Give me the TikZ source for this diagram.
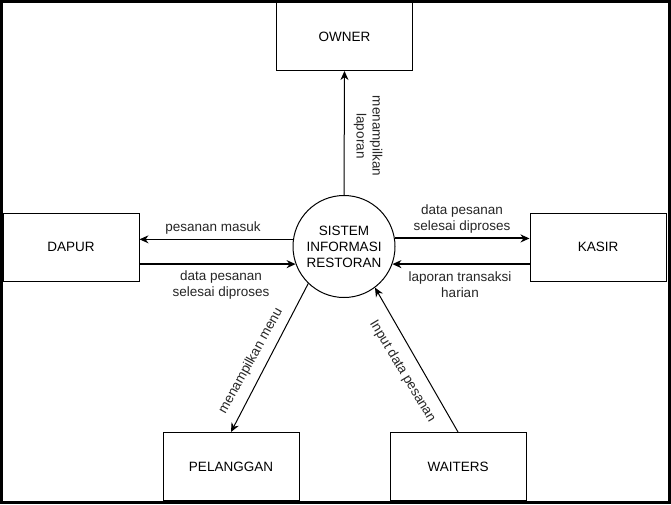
\documentclass[tikz,border=0pt]{standalone}
\usepackage{fontspec}
\setmainfont{Liberation Sans}
\usetikzlibrary{arrows.meta,calc}
\begin{document}
\begin{tikzpicture}[x=1pt,y=-1pt,
  font=\fontsize{13.5}{16}\selectfont,
  box/.style={draw, line width=1pt, minimum width=136pt, minimum height=68pt, inner sep=0pt},
  flow/.style={-{Stealth[length=9pt,width=8pt]}, line width=1pt},
  heavy/.style={flow, line width=2pt},
  lbl/.style={align=center, inner sep=0pt, text=black!85}]
\useasboundingbox (0,0) rectangle (671,504);
\fill[white] (0,0) rectangle (671,504);
\draw[line width=3pt] (1.5,1.5) rectangle (669.5,502.5);

\node[box] (owner) at (344.5,36.5) {OWNER};
\node[box] (dapur) at (71,247) {DAPUR};
\node[box] (kasir) at (598,247) {KASIR};
\node[box] (pel) at (231,466.5) {PELANGGAN};
\node[box] (wait) at (458,466.5) {WAITERS};
\node[circle, draw, line width=1pt, minimum size=102pt, inner sep=0pt, align=center] (sys) at (344,246.5) {SISTEM\\INFORMASI\\RESTORAN};

\draw[flow] (sys.north) -- (owner.south);
\node[lbl, rotate=-90] (l1) at (368,136) {menampilkan\\laporan};

\draw[flow] (sys.172.7) -- (sys.172.7 -| dapur.east);
\node[lbl] (l2) at (213,228) {pesanan masuk};
\draw[heavy] (sys.200 -| dapur.east) -- (sys.200);
\node[lbl] (l3) at (221,285) {data pesanan\\selesai diproses};

\draw[heavy] (sys.9.6) -- (sys.9.6 -| kasir.west);
\node[lbl] (l4) at (462,219) {data pesanan\\selesai diproses};
\draw[heavy] (sys.340 -| kasir.west) -- (sys.340);
\node[lbl] (l5) at (460,285) {laporan transaksi\\harian};

\draw[flow] (sys.226) -- (pel.north);
\node[lbl, rotate=61] (l6) at (251,361) {menampilkan menu};
\draw[flow] (wait.north) -- (sys.307);
\node[lbl, rotate=-59] (l7) at (402.5,371.5) {Input data pesanan};
\end{tikzpicture}
\end{document}
